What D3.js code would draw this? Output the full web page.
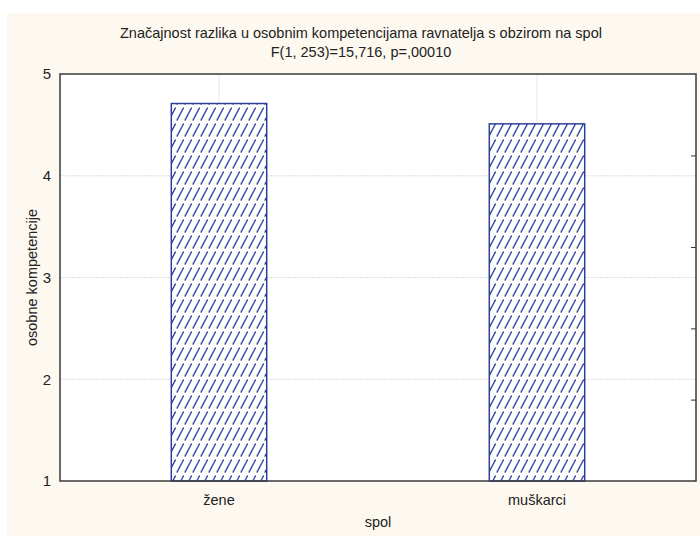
<!DOCTYPE html>
<html lang="hr">
<head>
<meta charset="UTF-8">
<title>Značajnost razlika u osobnim kompetencijama ravnatelja s obzirom na spol</title>
<script src="https://d3js.org/d3.v7.min.js"></script>
<style>
    body { margin: 0; padding: 0; background: #fff; }
    svg { display: block; font-family: "Liberation Sans", Arial, sans-serif; }
    .tick text { fill: #222; }
</style>
</head>
<body>
<svg id="chart" width="700" height="536"></svg>
<script>
    // data
    const categories = ["žene", "muškarci"];
    const means = [4.71, 4.51];
    const yTicks = [1, 2, 3, 4, 5];
    const rightTicks = [4.2, 3.3, 2.5, 1.8];
    const titleLines = [
        "Značajnost razlika u osobnim kompetencijama ravnatelja s obzirom na spol",
        "F(1, 253)=15,716, p=,00010"
    ];
    const xLabel = "spol";
    const yLabel = "osobne kompetencije";

    const W = 700, H = 536;
    const margin = { top: 74, right: 4, bottom: 55, left: 60 };
    const iw = W - margin.left - margin.right;
    const ih = H - margin.top - margin.bottom;
    const fs = 14.5;

    const svg = d3.select("#chart");

    // cream panel
    svg.append("rect")
        .attr("x", 7).attr("y", 13)
        .attr("width", W - 7).attr("height", H - 13)
        .attr("fill", "#fdf9f0");

    // hatch pattern (broken diagonal rows)
    const defs = svg.append("defs");
    const pat = defs.append("pattern")
        .attr("id", "hatch")
        .attr("patternUnits", "userSpaceOnUse")
        .attr("width", 8).attr("height", 16)
        .attr("x", margin.left).attr("y", 0);
    pat.append("rect").attr("width", 8).attr("height", 16).attr("fill", "#fff");
    pat.append("path")
        .attr("d", "M0.8,14.6 L7.6,1.6")
        .attr("stroke", "#3447a3")
        .attr("stroke-width", 1.4)
        .attr("fill", "none");

    const g = svg.append("g").attr("transform", `translate(${margin.left},${margin.top})`);

    g.append("rect").attr("width", iw).attr("height", ih).attr("fill", "#fff");

    const x = d3.scaleBand().domain(categories).range([0, iw]).paddingInner(0).paddingOuter(0);
    const y = d3.scaleLinear().domain([1, 5]).range([ih, 0]);
    const barW = x.bandwidth() * 0.3;

    // grid
    g.append("g").selectAll("line")
        .data(yTicks.filter(t => t > 1 && t < 5))
        .join("line")
        .attr("x1", 0).attr("x2", iw)
        .attr("y1", d => y(d)).attr("y2", d => y(d))
        .attr("stroke", "#dcdcdc").attr("stroke-dasharray", "2,1");
    g.append("g").selectAll("line")
        .data(categories)
        .join("line")
        .attr("x1", d => x(d) + x.bandwidth() / 2).attr("x2", d => x(d) + x.bandwidth() / 2)
        .attr("y1", 0).attr("y2", ih)
        .attr("stroke", "#e6e6e6");

    // bars
    g.selectAll("rect.bar")
        .data(categories)
        .join("rect")
        .attr("class", "bar")
        .attr("x", d => x(d) + x.bandwidth() / 2 - barW / 2)
        .attr("y", (d, i) => y(means[i]))
        .attr("width", barW)
        .attr("height", (d, i) => y(1) - y(means[i]))
        .attr("fill", "url(#hatch)")
        .attr("stroke", "#2c3f9c")
        .attr("stroke-width", 1.5);

    // axes
    const yAxis = g.append("g")
        .call(d3.axisLeft(y).tickValues(yTicks).tickSize(0).tickPadding(9).tickFormat(d3.format("d")));
    yAxis.select(".domain").remove();
    yAxis.selectAll("text").attr("font-size", 15).attr("font-family", "Liberation Sans, Arial, sans-serif");

    const xAxis = g.append("g")
        .attr("transform", `translate(0,${ih})`)
        .call(d3.axisBottom(x).tickSize(0).tickPadding(14));
    xAxis.select(".domain").remove();
    xAxis.selectAll("text").attr("font-size", fs).attr("font-family", "Liberation Sans, Arial, sans-serif");

    const rAxis = g.append("g")
        .attr("transform", `translate(${iw},0)`)
        .call(d3.axisLeft(y).tickValues(rightTicks).tickSize(5).tickFormat(""));
    rAxis.select(".domain").remove();
    rAxis.selectAll("line").attr("stroke", "#333");

    // frame
    g.append("rect")
        .attr("width", iw).attr("height", ih)
        .attr("fill", "none").attr("stroke", "#3a3a3a").attr("stroke-width", 1.5);

    // titles
    svg.selectAll("text.title")
        .data(titleLines)
        .join("text")
        .attr("class", "title")
        .attr("x", 361).attr("y", (d, i) => 38 + i * 19)
        .attr("text-anchor", "middle")
        .attr("font-size", fs)
        .attr("fill", "#222")
        .text(d => d);

    svg.append("text")
        .attr("x", margin.left + iw / 2).attr("y", 527)
        .attr("text-anchor", "middle")
        .attr("font-size", fs).attr("fill", "#222")
        .text(xLabel);

    svg.append("text")
        .attr("transform", `translate(37,${margin.top + ih / 2}) rotate(-90)`)
        .attr("text-anchor", "middle")
        .attr("font-size", fs).attr("fill", "#222")
        .text(yLabel);
</script>
</body>
</html>
